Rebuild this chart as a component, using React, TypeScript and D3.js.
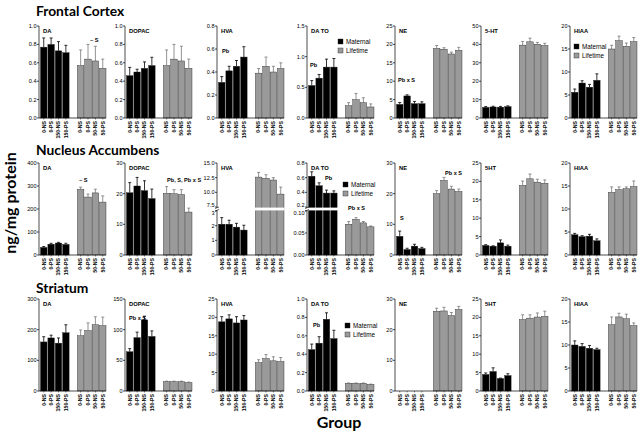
import React from "react";
import * as d3 from "d3";

// ---------- DATA ----------
const matGroups = ["0-NS", "0-PS", "150-NS", "150-PS"];
const lifeGroups = ["0-NS", "0-PS", "50-NS", "50-PS"];
const regions = ["Frontal Cortex", "Nucleus Accumbens", "Striatum"];

// Frontal Cortex
const fcDA_mat = [0.77, 0.8, 0.73, 0.71];
const fcDA_matErr = [0.1, 0.07, 0.1, 0.08];
const fcDA_life = [0.57, 0.64, 0.62, 0.54];
const fcDA_lifeErr = [0.17, 0.16, 0.16, 0.1];
const fcDOPAC_mat = [0.46, 0.5, 0.54, 0.57];
const fcDOPAC_matErr = [0.09, 0.03, 0.07, 0.09];
const fcDOPAC_life = [0.57, 0.64, 0.62, 0.54];
const fcDOPAC_lifeErr = [0.17, 0.16, 0.16, 0.1];
const fcHVA_mat = [0.31, 0.41, 0.45, 0.53];
const fcHVA_matErr = [0.05, 0.04, 0.05, 0.09];
const fcHVA_life = [0.39, 0.45, 0.4, 0.43];
const fcHVA_lifeErr = [0.04, 0.08, 0.05, 0.05];
const fcDATO_mat = [0.53, 0.65, 0.83, 0.83];
const fcDATO_matErr = [0.08, 0.06, 0.13, 0.14];
const fcDATO_life = [0.2, 0.3, 0.25, 0.18];
const fcDATO_lifeErr = [0.05, 0.1, 0.08, 0.05];
const fcNE_mat = [3.7, 6.0, 3.9, 3.9];
const fcNE_matErr = [0.5, 0.3, 0.6, 0.5];
const fcNE_life = [18.9, 18.7, 17.4, 18.4];
const fcNE_lifeErr = [0.8, 0.4, 0.5, 0.8];
const fc5HT_mat = [5.8, 6.0, 5.9, 6.2];
const fc5HT_matErr = [0.4, 0.4, 0.4, 0.4];
const fc5HT_life = [39.6, 41.4, 40.1, 39.4];
const fc5HT_lifeErr = [2.0, 2.0, 1.0, 1.2];
const fcHIAA_mat = [5.6, 7.6, 6.7, 8.2];
const fcHIAA_matErr = [0.7, 0.5, 0.6, 1.4];
const fcHIAA_life = [15.0, 16.8, 15.6, 16.6];
const fcHIAA_lifeErr = [0.8, 1.0, 0.7, 0.9];

// Nucleus Accumbens
const naDA_mat = [33, 47, 52, 46];
const naDA_matErr = [4, 4, 3, 5];
const naDA_life = [285, 252, 270, 230];
const naDA_lifeErr = [10, 13, 16, 27];
const naDOPAC_mat = [20.3, 22.5, 21.0, 18.4];
const naDOPAC_matErr = [3.3, 2.8, 3.2, 3.1];
const naDOPAC_life = [20.1, 20.0, 19.7, 14.0];
const naDOPAC_lifeErr = [2.2, 1.3, 1.6, 1.3];
const naHVA_mat = [2.1, 2.1, 1.9, 1.7];
const naHVA_matErr = [0.45, 0.27, 0.26, 0.33];
const naHVA_life = [12.6, 12.4, 12.1, 9.7];
const naHVA_lifeErr = [0.8, 0.6, 0.4, 1.2];
const naDATO_mat = [0.62, 0.49, 0.39, 0.39];
const naDATO_matErr = [0.06, 0.04, 0.04, 0.03];
const naDATO_life = [0.07, 0.081, 0.073, 0.064];
const naDATO_lifeErr = [0.006, 0.004, 0.003, 0.002];
const naNE_mat = [6.1, 1.8, 2.9, 2.1];
const naNE_matErr = [1.7, 0.4, 0.6, 0.4];
const naNE_life = [20.0, 24.3, 21.5, 20.7];
const naNE_lifeErr = [1.0, 1.0, 0.9, 0.8];
const na5HT_mat = [2.6, 2.4, 3.3, 2.4];
const na5HT_matErr = [0.2, 0.1, 0.8, 0.3];
const na5HT_life = [18.9, 20.7, 19.8, 19.5];
const na5HT_lifeErr = [1.2, 1.3, 0.8, 0.9];
const naHIAA_mat = [4.4, 4.0, 4.1, 3.1];
const naHIAA_matErr = [0.3, 0.2, 0.4, 0.4];
const naHIAA_life = [13.6, 14.2, 14.4, 14.9];
const naHIAA_lifeErr = [1.2, 0.6, 0.4, 1.2];

// Striatum
const stDA_mat = [160, 173, 156, 190];
const stDA_matErr = [17, 9, 17, 26];
const stDA_life = [180, 197, 216, 213];
const stDA_lifeErr = [19, 25, 26, 28];
const stDOPAC_mat = [64, 87, 116, 89];
const stDOPAC_matErr = [5, 9, 6, 9];
const stDOPAC_life = [15, 15, 15, 13.5];
const stDOPAC_lifeErr = [1, 1, 1, 1];
const stHVA_mat = [18.8, 19.6, 18.5, 19.3];
const stHVA_matErr = [1.4, 1.1, 1.7, 1.2];
const stHVA_life = [7.7, 8.8, 8.2, 8.0];
const stHVA_lifeErr = [0.8, 1.1, 1.1, 1.1];
const stDATO_mat = [0.45, 0.52, 0.78, 0.57];
const stDATO_matErr = [0.06, 0.07, 0.07, 0.09];
const stDATO_life = [0.083, 0.083, 0.083, 0.072];
const stDATO_lifeErr = [0.004, 0.004, 0.004, 0.003];
const stNE_mat: number[] = [];
const stNE_matErr: number[] = [];
const stNE_life = [26.0, 26.1, 24.6, 26.6];
const stNE_lifeErr = [1.0, 1.2, 1.0, 1.0];
const st5HT_mat = [4.5, 5.3, 3.4, 4.2];
const st5HT_matErr = [0.4, 1.0, 0.1, 0.5];
const st5HT_life = [19.4, 19.8, 20.1, 20.3];
const st5HT_lifeErr = [1.3, 0.9, 1.1, 1.4];
const stHIAA_mat = [10.0, 9.7, 9.3, 9.0];
const stHIAA_matErr = [0.9, 0.6, 0.6, 0.3];
const stHIAA_life = [14.4, 16.1, 15.7, 14.2];
const stHIAA_lifeErr = [1.7, 0.8, 1.0, 0.6];

// ---------- LAYOUT ----------
const W = 642;
const H = 434;
const COL_X = [39, 125, 217, 307, 395, 481, 570];
const ROW_TOP = [26, 163, 299];
const PH = 92;
const PW = 67;
const BLACK = "#000";
const GRAY = "#9a9a9a";
const FONT = "'Liberation Sans', Arial, sans-serif";
const BOLD = "Lato, 'Open Sans', sans-serif";

type Ann = { t: string; dx: number; dy: number };
type Spec = {
  title: string;
  mat: number[]; matErr: number[]; life: number[]; lifeErr: number[];
  domain?: [number, number]; step?: number; fmt?: string;
  broken?: { lower: [number, number]; upper: [number, number]; lt: number[]; ut: number[]; lf: string; uf: string };
  ann?: Ann[];
  legend?: { dx: number; dy: number };
};

const rowsSpec: Spec[][] = [
  [
    { title: "DA", mat: fcDA_mat, matErr: fcDA_matErr, life: fcDA_life, lifeErr: fcDA_lifeErr, domain: [0, 1], step: 0.2, fmt: ".1f", ann: [{ t: "~ S", dx: 51, dy: 16 }] },
    { title: "DOPAC", mat: fcDOPAC_mat, matErr: fcDOPAC_matErr, life: fcDOPAC_life, lifeErr: fcDOPAC_lifeErr, domain: [0, 1], step: 0.2, fmt: ".1f" },
    { title: "HVA", mat: fcHVA_mat, matErr: fcHVA_matErr, life: fcHVA_life, lifeErr: fcHVA_lifeErr, domain: [0, 0.8], step: 0.2, fmt: ".1f", ann: [{ t: "Pb", dx: 5, dy: 27 }] },
    { title: "DA TO", mat: fcDATO_mat, matErr: fcDATO_matErr, life: fcDATO_life, lifeErr: fcDATO_lifeErr, domain: [0, 1.5], step: 0.5, fmt: ".1f", ann: [{ t: "Pb", dx: 3, dy: 41 }], legend: { dx: 31, dy: 13 } },
    { title: "NE", mat: fcNE_mat, matErr: fcNE_matErr, life: fcNE_life, lifeErr: fcNE_lifeErr, domain: [0, 25], step: 5, fmt: "d", ann: [{ t: "Pb x S", dx: 3, dy: 56 }] },
    { title: "5-HT", mat: fc5HT_mat, matErr: fc5HT_matErr, life: fc5HT_life, lifeErr: fc5HT_lifeErr, domain: [0, 50], step: 10, fmt: "d" },
    { title: "HIAA", mat: fcHIAA_mat, matErr: fcHIAA_matErr, life: fcHIAA_life, lifeErr: fcHIAA_lifeErr, domain: [0, 20], step: 5, fmt: "d", legend: { dx: 4, dy: 18 } },
  ],
  [
    { title: "DA", mat: naDA_mat, matErr: naDA_matErr, life: naDA_life, lifeErr: naDA_lifeErr, domain: [0, 400], step: 100, fmt: "d", ann: [{ t: "~ S", dx: 40, dy: 19 }] },
    { title: "DOPAC", mat: naDOPAC_mat, matErr: naDOPAC_matErr, life: naDOPAC_life, lifeErr: naDOPAC_lifeErr, domain: [0, 30], step: 10, fmt: "d", ann: [{ t: "Pb, S, Pb x S", dx: 42, dy: 19 }] },
    { title: "HVA", mat: naHVA_mat, matErr: naHVA_matErr, life: naHVA_life, lifeErr: naHVA_lifeErr, broken: { lower: [0, 3], upper: [7.5, 15], lt: [0, 1, 2, 3], ut: [7.5, 10, 12.5, 15], lf: "d", uf: ".1f" } },
    { title: "DA TO", mat: naDATO_mat, matErr: naDATO_matErr, life: naDATO_life, lifeErr: naDATO_lifeErr, broken: { lower: [0, 0.1], upper: [0.2, 0.8], lt: [0, 0.05, 0.1], ut: [0.2, 0.4, 0.6, 0.8], lf: ".2f", uf: ".1f" }, ann: [{ t: "Pb", dx: 18, dy: 17 }, { t: "Pb x S", dx: 41, dy: 47 }], legend: { dx: 36, dy: 19 } },
    { title: "NE", mat: naNE_mat, matErr: naNE_matErr, life: naNE_life, lifeErr: naNE_lifeErr, domain: [0, 30], step: 10, fmt: "d", ann: [{ t: "S", dx: 5, dy: 57 }, { t: "Pb x S", dx: 50, dy: 12 }] },
    { title: "5HT", mat: na5HT_mat, matErr: na5HT_matErr, life: na5HT_life, lifeErr: na5HT_lifeErr, domain: [0, 25], step: 5, fmt: "d" },
    { title: "HIAA", mat: naHIAA_mat, matErr: naHIAA_matErr, life: naHIAA_life, lifeErr: naHIAA_lifeErr, domain: [0, 20], step: 5, fmt: "d" },
  ],
  [
    { title: "DA", mat: stDA_mat, matErr: stDA_matErr, life: stDA_life, lifeErr: stDA_lifeErr, domain: [0, 300], step: 100, fmt: "d" },
    { title: "DOPAC", mat: stDOPAC_mat, matErr: stDOPAC_matErr, life: stDOPAC_life, lifeErr: stDOPAC_lifeErr, domain: [0, 150], step: 50, fmt: "d", ann: [{ t: "Pb x S", dx: 4, dy: 21 }] },
    { title: "HVA", mat: stHVA_mat, matErr: stHVA_matErr, life: stHVA_life, lifeErr: stHVA_lifeErr, domain: [0, 25], step: 5, fmt: "d" },
    { title: "DA TO", mat: stDATO_mat, matErr: stDATO_matErr, life: stDATO_life, lifeErr: stDATO_lifeErr, domain: [0, 1], step: 0.2, fmt: ".1f", ann: [{ t: "Pb", dx: 6, dy: 28 }], legend: { dx: 38, dy: 24 } },
    { title: "NE", mat: stNE_mat, matErr: stNE_matErr, life: stNE_life, lifeErr: stNE_lifeErr, domain: [0, 30], step: 10, fmt: "d" },
    { title: "5HT", mat: st5HT_mat, matErr: st5HT_matErr, life: st5HT_life, lifeErr: st5HT_lifeErr, domain: [0, 25], step: 5, fmt: "d" },
    { title: "HIAA", mat: stHIAA_mat, matErr: stHIAA_matErr, life: stHIAA_life, lifeErr: stHIAA_lifeErr, domain: [0, 20], step: 5, fmt: "d" },
  ],
];

function Panel({ spec, x0, top }: { spec: Spec; x0: number; top: number }) {
  const base = top + PH;
  const slots = ["m0", "m1", "m2", "m3", "gap", "l0", "l1", "l2", "l3"];
  const x = d3.scaleBand<string>().domain(slots).range([x0 + 1.5, x0 + PW]).paddingInner(0.12).paddingOuter(0);
  const bw = x.bandwidth();

  let yv: (v: number) => number;
  const tickEls: React.ReactNode[] = [];
  const tickLab = (y: number, label: string, k: string, shift = 2) => (
    <g key={k}>
      <line x1={x0 - 2} x2={x0} y1={y} y2={y} stroke="#000" strokeWidth={0.7} />
      <text x={x0 - 2.5} y={y + shift} fontSize={5.6} textAnchor="end" fontFamily={FONT}>{label}</text>
    </g>
  );
  if (spec.broken) {
    const b = spec.broken;
    const yU = d3.scaleLinear().domain(b.upper).range([top + 44, top]);
    const yL = d3.scaleLinear().domain(b.lower).range([base, top + 48]);
    yv = (v) => (v <= b.lower[1] ? yL(v) : yU(v));
    b.lt.forEach((t, i) => tickEls.push(tickLab(yL(t), d3.format(b.lf)(t), "l" + i, i === b.lt.length - 1 ? 3.6 : 2)));
    b.ut.forEach((t, i) => tickEls.push(tickLab(yU(t), d3.format(b.uf)(t), "u" + i, i === 0 ? 0.4 : 2)));
  } else {
    const y = d3.scaleLinear().domain(spec.domain!).range([base, top]);
    yv = (v) => y(v);
    d3.range(spec.domain![0], spec.domain![1] + spec.step! / 2, spec.step!).forEach((t, i) =>
      tickEls.push(tickLab(y(t), d3.format(spec.fmt!)(t), "t" + i))
    );
  }

  const bars = (vals: number[], errs: number[], pref: string, fill: string, errColor: string) =>
    vals.map((v, i) => {
      const cx = x(pref + i)!;
      const yt = yv(v);
      const ye = yv(v + errs[i]);
      const mid = cx + bw / 2;
      return (
        <g key={pref + i}>
          <line x1={mid} x2={mid} y1={yt} y2={ye} stroke={errColor} strokeWidth={0.8} />
          <line x1={mid - 1.5} x2={mid + 1.5} y1={ye} y2={ye} stroke={errColor} strokeWidth={0.8} />
          <rect x={cx} y={yt} width={bw} height={base - yt} fill={fill} stroke="#222" strokeWidth={0.4} />
        </g>
      );
    });

  const labels = [
    ...matGroups.map((g, i) => ({ g, k: "m" + i })),
    ...lifeGroups.map((g, i) => ({ g, k: "l" + i })),
  ];

  return (
    <g>
      {bars(spec.mat, spec.matErr, "m", BLACK, "#000")}
      {bars(spec.life, spec.lifeErr, "l", GRAY, "#777")}
      {spec.broken && (
        <g>
          <rect x={x0 - 0.5} y={top + 44.6} width={PW + 1} height={2.8} fill="#fff" />
          <line x1={x0 - 2} x2={x0 + 2} y1={top + 45.5} y2={top + 44} stroke="#000" strokeWidth={0.6} />
          <line x1={x0 - 2} x2={x0 + 2} y1={top + 48} y2={top + 46.5} stroke="#000" strokeWidth={0.6} />
        </g>
      )}
      {spec.broken ? (
        <g>
          <line x1={x0} x2={x0} y1={top} y2={top + 44.8} stroke="#000" strokeWidth={0.7} />
          <line x1={x0} x2={x0} y1={top + 47.2} y2={base} stroke="#000" strokeWidth={0.7} />
        </g>
      ) : (
        <line x1={x0} x2={x0} y1={top} y2={base} stroke="#000" strokeWidth={0.7} />
      )}
      {tickEls}
      <line x1={x0} x2={x0 + PW} y1={base} y2={base} stroke="#000" strokeWidth={0.7} />
      {labels.map(({ g, k }) => {
        const mid = x(k)! + bw / 2;
        return (
          <g key={"lab" + k}>
            <line x1={mid} x2={mid} y1={base} y2={base + 1.5} stroke="#000" strokeWidth={0.5} />
            <text transform={`translate(${mid + 1.8},${base + 3}) rotate(-90)`} fontSize={5.2} textAnchor="end" fontFamily={FONT} fontWeight="bold">{g}</text>
          </g>
        );
      })}
      <text x={x0 + 4} y={top + 7} fontSize={5.8} fontFamily={FONT} fontWeight="bold">{spec.title}</text>
      {(spec.ann || []).map((a, i) => (
        <text key={"a" + i} x={x0 + a.dx} y={top + a.dy} fontSize={5.6} fontFamily={FONT} fontWeight="bold">{a.t}</text>
      ))}
      {spec.legend && (
        <g>
          <rect x={x0 + spec.legend.dx} y={top + spec.legend.dy} width={5} height={5} fill={BLACK} stroke="#222" strokeWidth={0.4} />
          <text x={x0 + spec.legend.dx + 8} y={top + spec.legend.dy + 4.8} fontSize={6.3} fontFamily={FONT}>Maternal</text>
          <rect x={x0 + spec.legend.dx} y={top + spec.legend.dy + 9} width={5} height={5} fill={GRAY} stroke="#222" strokeWidth={0.4} />
          <text x={x0 + spec.legend.dx + 8} y={top + spec.legend.dy + 13.8} fontSize={6.3} fontFamily={FONT}>Lifetime</text>
        </g>
      )}
    </g>
  );
}

const REGION_Y = [16, 155, 293];

export default function App() {
  return (
    <svg width={W} height={H} style={{ position: "absolute", left: 0, top: 0, background: "#fff" }}>
      <rect width={W} height={H} fill="#fff" />
      {regions.map((r, i) => (
        <text key={r} x={36} y={REGION_Y[i]} fontSize={13.8} fontWeight="bold" fontFamily={BOLD}>{r}</text>
      ))}
      {rowsSpec.map((row, ri) =>
        row.map((spec, ci) => <Panel key={ri + "-" + ci} spec={spec} x0={COL_X[ci]} top={ROW_TOP[ri]} />)
      )}
      <text transform="translate(16,203) rotate(-90)" fontSize={16} fontWeight="bold" textAnchor="middle" fontFamily={BOLD}>ng/mg protein</text>
      <text x={339} y={428} fontSize={16} fontWeight="bold" textAnchor="middle" fontFamily={BOLD}>Group</text>
    </svg>
  );
}
